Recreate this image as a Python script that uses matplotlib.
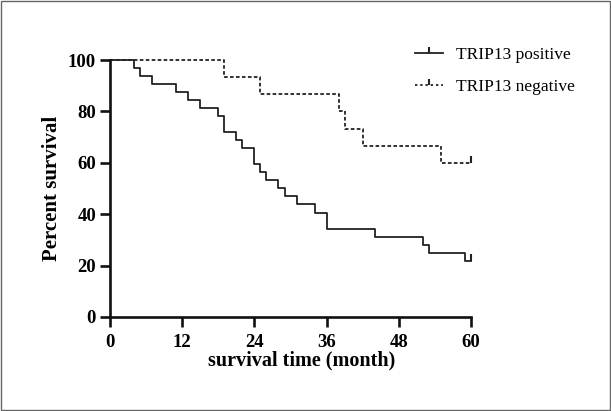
import matplotlib
matplotlib.use("Agg")
import matplotlib.pyplot as plt
from matplotlib.lines import Line2D
from matplotlib.patches import Rectangle

# Kaplan-Meier steps (time in months, survival in %)
pos_time = [0, 4, 5, 7, 11, 13, 15, 18, 19, 21, 22, 24, 25, 26, 28, 29, 31, 34, 36, 44, 52, 53, 59, 60]
pos_surv = [100, 96.875, 93.75, 90.625, 87.5, 84.375, 81.25, 78.125, 71.875, 68.75, 65.625,
            59.375, 56.25, 53.125, 50, 46.875, 43.75, 40.625, 34.375, 31.25, 28.125, 25, 21.875, 21.875]
neg_time = [0, 19, 25, 38, 39, 42, 55, 60]
neg_surv = [100, 93.33, 86.67, 80, 73.33, 66.67, 60, 60]

xticks = [0, 12, 24, 36, 48, 60]
yticks = [0, 20, 40, 60, 80, 100]
labels = ["TRIP13 positive", "TRIP13 negative"]

plt.rcParams['font.family'] = ['Liberation Serif', 'DejaVu Serif']

fig = plt.figure(figsize=(6.11, 4.11), dpi=100)
ax = fig.add_axes([0.18, 0.229, 0.591, 0.625])

ax.step(pos_time, pos_surv, where='post', color='#222222', lw=1.3, clip_on=False)
ax.step(neg_time, neg_surv, where='post', color='#222222', lw=1.3, ls=(0, (2.0, 1.3)), clip_on=False)
# censor ticks at end of follow-up
ax.plot(pos_time[-1:], pos_surv[-1:], ls='none', marker=2, ms=5, mew=1.5, color='#222222', clip_on=False)
ax.plot(neg_time[-1:], neg_surv[-1:], ls='none', marker=2, ms=5, mew=1.5, color='#222222', clip_on=False)

ax.set_xlim(0, 60)
ax.set_ylim(0, 100)
ax.set_xticks(xticks)
ax.set_yticks(yticks)
for s in ['top', 'right']:
    ax.spines[s].set_visible(False)
for s in ['left', 'bottom']:
    ax.spines[s].set_linewidth(1.9)
    ax.spines[s].set_color('#111111')
ax.tick_params(width=1.9, length=7, color='#111111', labelsize=13.5, pad=3)
ax.tick_params(axis='x', pad=5)
for t in ax.get_xticklabels() + ax.get_yticklabels():
    t.set_fontweight('bold')

ax.set_xlabel("survival time (month)", fontsize=14.5, fontweight='bold')
ax.xaxis.set_label_coords(0.53, -0.13)
ax.set_ylabel("Percent survival", fontsize=15, fontweight='bold', labelpad=4)

handles = [
    Line2D([], [], color='#222222', lw=1.3, marker=2, ms=4, mew=1.5),
    Line2D([], [], color='#222222', lw=1.3, ls=(0, (1.3, 1.6)), marker=2, ms=4, mew=1.5),
]
fig.legend(handles, labels, loc='upper left', bbox_to_anchor=(0.665, 0.907),
           frameon=False, fontsize=12.5, handlelength=1.6, handletextpad=0.75,
           labelspacing=0.9, borderpad=0)

fig.patches.append(Rectangle((0.002, 0.002), 0.996, 0.996, transform=fig.transFigure,
                             fill=False, edgecolor='#666666', lw=1.0))

fig.savefig("out.png", dpi=100)
